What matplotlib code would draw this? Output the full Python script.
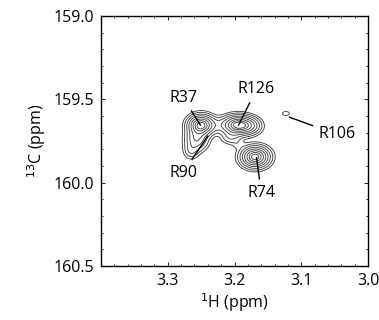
import numpy as np
import matplotlib.pyplot as plt

plt.rcParams['font.family'] = ['Open Sans', 'DejaVu Sans']

# peak list (1H ppm, 13C ppm, height, widths)
peak_h = [3.250, 3.195, 3.257, 3.265, 3.169, 3.123, 3.176, 3.206, 3.224, 3.195]
peak_c = [159.655, 159.655, 159.74, 159.81, 159.846, 159.585, 159.66, 159.73, 159.655, 159.77]
peak_amp = [1.0, 1.0, 0.4, 0.15, 1.0, 0.06, 0.3, 0.14, 0.1, 0.05]
peak_wh = [0.011, 0.013, 0.010, 0.007, 0.012, 0.0066, 0.010, 0.009, 0.010, 0.006]
peak_wc = [0.035, 0.033, 0.040, 0.030, 0.036, 0.015, 0.030, 0.025, 0.030, 0.02]

labels = ['R37', 'R126', 'R90', 'R74', 'R106']
label_xy = [(3.251, 159.655), (3.194, 159.655), (3.240, 159.72), (3.167, 159.85), (3.118, 159.607)]
label_text = [(3.277, 159.49), (3.167, 159.44), (3.277, 159.94), (3.160, 160.06), (3.047, 159.71)]

levels = [0.044, 0.089, 0.165, 0.274, 0.418, 0.588, 0.761, 0.904]

h = np.linspace(3.0, 3.4, 600)
c = np.linspace(159.0, 160.5, 700)
H, C = np.meshgrid(h, c)
Z = np.zeros_like(H)
for x0, y0, a, sx, sy in zip(peak_h, peak_c, peak_amp, peak_wh, peak_wc):
    Z += a * np.exp(-0.5 * ((H - x0) / sx) ** 2 - 0.5 * ((C - y0) / sy) ** 2)

fig = plt.figure(figsize=(3.79, 3.20), dpi=100)
ax = fig.add_axes([0.2665, 0.169, 0.7045, 0.781])
ax.contour(H, C, Z, levels=levels, colors='#333333', linewidths=0.6)

for lab, xy, xt in zip(labels, label_xy, label_text):
    ax.annotate(lab, xy=xy, xytext=xt, ha='center', va='center', fontsize=11.5,
                arrowprops=dict(arrowstyle='-', color='black', lw=1.0, shrinkA=2, shrinkB=0))

ax.set_xlim(3.4, 3.0)
ax.set_ylim(160.5, 159.0)
ax.set_xticks([3.3, 3.2, 3.1, 3.0])
ax.set_xticks(np.arange(3.0, 3.401, 0.02), minor=True)
ax.set_yticks([159.0, 159.5, 160.0, 160.5])
ax.set_yticks(np.arange(159.0, 160.501, 0.1), minor=True)
ax.xaxis.set_major_formatter(plt.FormatStrFormatter('%.1f'))
ax.yaxis.set_major_formatter(plt.FormatStrFormatter('%.1f'))
ax.tick_params(which='both', direction='in', top=True, right=True, labelsize=11.5, width=0.6)
ax.tick_params(which='major', length=3, pad=5)
ax.tick_params(which='minor', length=1.5)
for s in ax.spines.values():
    s.set_linewidth(1.0)

ax.set_xlabel('$^{1}$H (ppm)', fontsize=11.5, labelpad=2)
ax.set_ylabel('$^{13}$C (ppm)', fontsize=11.5, labelpad=4)

fig.savefig('out.png', dpi=100)
